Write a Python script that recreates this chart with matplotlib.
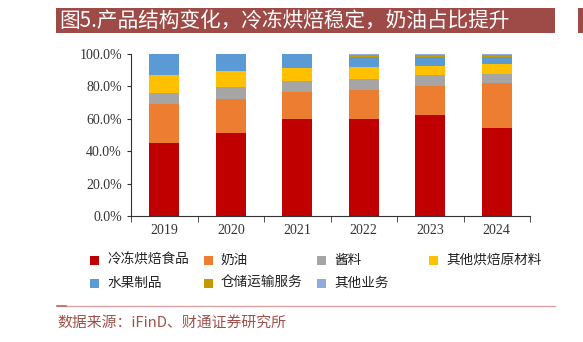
import matplotlib
matplotlib.use("Agg")
import matplotlib.pyplot as plt
from matplotlib.patches import Rectangle
from matplotlib.ticker import FuncFormatter, MultipleLocator
import numpy as np

years = ["2019", "2020", "2021", "2022", "2023", "2024"]
series_names = ["冷冻烘焙食品", "奶油", "酱料", "其他烘焙原材料", "水果制品", "仓储运输服务", "其他业务"]
frozen = [45.2, 51.4, 59.9, 59.9, 62.1, 54.3]
cream = [24.1, 20.8, 16.8, 18.1, 18.3, 27.8]
sauce = [6.6, 7.6, 6.6, 6.6, 6.8, 5.7]
other_raw = [10.9, 9.9, 7.9, 7.2, 5.6, 6.2]
fruit = [13.2, 10.3, 8.8, 6.6, 5.2, 4.4]
storage = [0.0, 0.0, 0.0, 0.9, 1.3, 1.1]
other_biz = [0.0, 0.0, 0.0, 0.7, 0.7, 0.5]
colors = ["#C00000", "#ED7D31", "#A5A5A5", "#FFC000", "#5B9BD5", "#C49A00", "#8FAADC"]

title = "图5.产品结构变化，冷冻烘焙稳定，奶油占比提升"
source = "数据来源：iFinD、财通证券研究所"

plt.rcParams['font.family'] = ['Noto Sans CJK SC', 'DejaVu Sans']

W, H = 583, 342
fig = plt.figure(figsize=(W / 100, H / 100), dpi=100)

def fx(px):
    return px / W

def fy(py):
    return 1 - py / H

# title banner
banner = "#9E4A47"
fig.patches.append(Rectangle((fx(56), fy(33)), fx(499), 25 / H, transform=fig.transFigure,
                             facecolor=banner, edgecolor="none", zorder=0))
fig.patches.append(Rectangle((fx(578), fy(33)), fx(10), 25 / H, transform=fig.transFigure,
                             facecolor=banner, edgecolor="none", zorder=0))
fig.text(fx(59), fy(20.5), title, color="white", fontsize=14.9, va="center", ha="left")

# axes
ax = fig.add_axes([fx(131), fy(216), fx(399), 162 / H])
data = [frozen, cream, sauce, other_raw, fruit, storage, other_biz]
x = np.arange(len(years))
bottom = np.zeros(len(years))
for name, vals, c in zip(series_names, data, colors):
    v = np.array(vals) / 100
    ax.bar(x, v, 0.45, bottom=bottom, color=c, label=name, zorder=2)
    bottom += v

ax.set_xlim(-0.5, len(years) - 0.5)
ax.set_ylim(0, 1)
ax.yaxis.set_major_locator(MultipleLocator(0.2))
ax.yaxis.set_major_formatter(FuncFormatter(lambda v, p: f"{v*100:.1f}%"))
ax.set_xticks(x)
ax.set_xticklabels(years)
ax.set_xticks(np.arange(-0.5, len(years), 1), minor=True)
ax.tick_params(axis="x", which="major", length=0, pad=6)
ax.tick_params(axis="x", which="minor", length=4, direction="out", color="#333333")
ax.tick_params(axis="y", length=3, direction="out", color="#333333")
for lab in ax.get_xticklabels() + ax.get_yticklabels():
    lab.set_fontfamily("Liberation Serif")
    lab.set_fontsize(10)
    lab.set_color("#333333")
for s in ["top", "right"]:
    ax.spines[s].set_visible(False)
ax.spines["left"].set_color("#333333")
ax.spines["bottom"].set_color("#333333")

# legend (row-major, fixed columns)
col_x = [90, 204, 317, 429]
row_y = [260, 283]
for i, (name, c) in enumerate(zip(series_names, colors)):
    r, col = divmod(i, 4)
    mx, my = col_x[col], row_y[r]
    fig.patches.append(Rectangle((fx(mx), fy(my + 4.5)), fx(9), 9 / H, transform=fig.transFigure,
                                 facecolor=c, edgecolor="none"))
    fig.text(fx(mx + 17), fy(my), name, color="#222222", fontsize=9.8, va="center", ha="left")

# bottom line and source
fig.add_artist(plt.Line2D([fx(57), fx(555)], [fy(306), fy(306)], transform=fig.transFigure,
                          color="#D9A3A3", lw=1))
fig.add_artist(plt.Line2D([fx(57), fx(66)], [fy(306), fy(306)], transform=fig.transFigure,
                          color="#B86A6A", lw=1.2))
fig.text(fx(57), fy(323), source, color="#A0504B", fontsize=10.7, va="center", ha="left")

fig.savefig("out.png", dpi=100)
